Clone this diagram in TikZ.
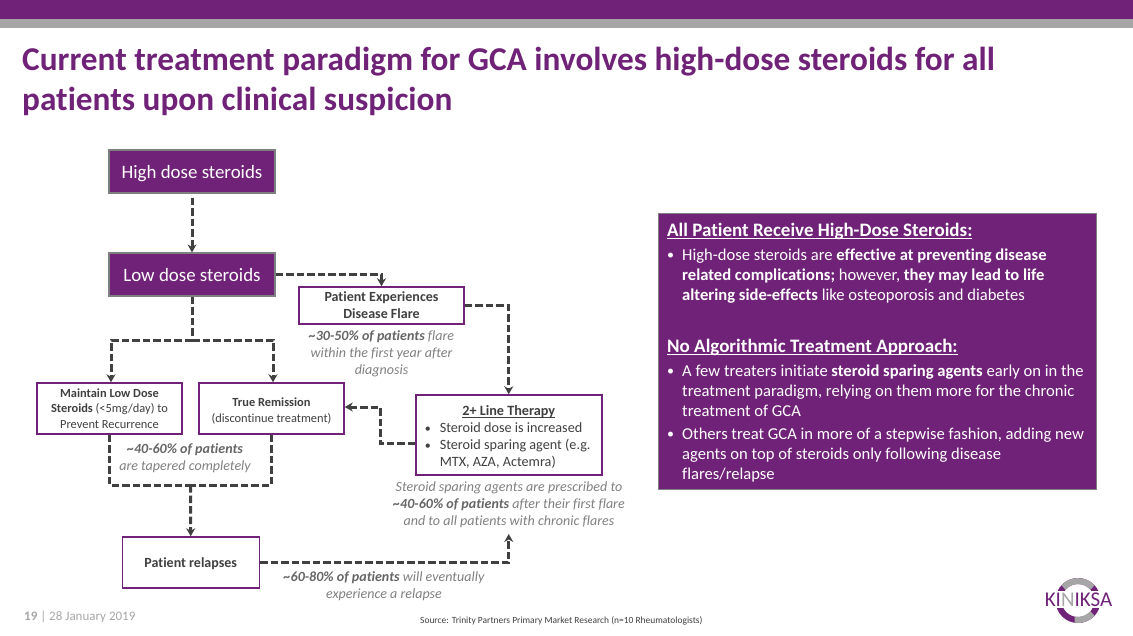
\documentclass[tikz,border=0pt]{standalone}
\usepackage{fontspec}
\setmainfont[Ligatures=NoCommon]{Carlito}
\usepackage{xcolor}
\usepackage{tikz}
\usetikzlibrary{positioning,calc,arrows.meta}
\definecolor{kpurple}{HTML}{6F2277}
\definecolor{kedge}{HTML}{7F7F7F}
\definecolor{kgray}{HTML}{A6A6A6}
\definecolor{kdark}{HTML}{404040}
\definecolor{knote}{HTML}{808080}
\definecolor{knotebold}{HTML}{666666}
\newcommand{\fs}[2]{\fontsize{#1}{#2}\selectfont}
\newcommand{\nb}[1]{{\bfseries\color{knotebold}#1}}
\newcommand{\ulbar}[3]{\setbox0\hbox{#3}\rlap{\rule[-#1]{\wd0}{#2}}\box0}
\tikzset{
    solidbox/.style={draw=kedge,line width=1.2pt,fill=kpurple,text=white,minimum width=166pt,minimum height=43pt,inner sep=0pt,text height=14pt,text depth=0pt,font=\fs{18.9}{22}},
    whitebox/.style={draw=kpurple,line width=1.5pt,fill=white,text=kdark,inner sep=0pt,align=center,font=\fs{12.4}{15.3}},
    flow/.style={draw=kdark,line width=3pt,dash pattern=on 7.5pt off 3pt,-{Stealth[length=8pt,width=9pt]}},
    flowplain/.style={draw=kdark,line width=3pt,dash pattern=on 7.5pt off 3pt},
    note/.style={text=knote,font=\fs{14.05}{17}\itshape,align=center,inner sep=0pt},
    panelhead/.style={text=white,font=\fs{19}{23}\bfseries,anchor=west,inner sep=0pt},
    panelbody/.style={text=white,font=\fs{16.6}{20},anchor=north west,inner sep=0pt,align=left},
    panelbullet/.style={text=white,font=\fs{14}{20},anchor=base west,inner sep=0pt},
}
\begin{document}
\begin{tikzpicture}[x=1pt,y=-1pt]
    \useasboundingbox (0,0) rectangle (1133,635);
    % top bars
    \fill[kpurple] (0,0) rectangle (1133,19);
    \fill[kgray] (0,19) rectangle (1133,28);
    \node[anchor=west,inner sep=0pt,text=kpurple,font=\fs{33.3}{40}\bfseries,align=left] (title) at (22,81)
        {Current treatment paradigm for GCA involves high-dose steroids for all\\patients upon clinical suspicion};

    % flow chart boxes
    \node[solidbox] (high) at (192,171.5) {High dose steroids};
    \node[solidbox] (low) at (192,274.5) {Low dose steroids};
    \node[whitebox,minimum width=165pt,minimum height=37pt,font=\fs{14}{17}] (flare) at (381.5,305.5) {\bfseries Patient Experiences\\\bfseries Disease Flare};
    \node[whitebox,minimum width=145pt,minimum height=51pt] (maintain) at (109.5,408.5)
        {\textbf{Maintain Low Dose}\\\textbf{Steroids} (<5mg/day) to\\Prevent Recurrence};
    \node[whitebox,minimum width=145pt,minimum height=51pt] (true) at (271.5,408.5)
        {\rule{0pt}{13.5pt}\textbf{True Remission}\\(discontinue treatment)};
    \node[whitebox,minimum width=186pt,minimum height=80pt,font=\fs{14.2}{17}] (line) at (508.75,435)
        {\begin{tabular}{@{}p{170pt}@{}}
            \rule{0pt}{18pt}\centering\bfseries\ulbar{2pt}{0.9pt}{2+ Line Therapy}\tabularnewline
            \makebox[16pt][l]{\hspace{1pt}\fs{12}{17}•}Steroid dose is increased\tabularnewline
            \makebox[16pt][l]{\hspace{1pt}\fs{12}{17}•}Steroid sparing agent (e.g.\tabularnewline
            \hspace{16pt}MTX, AZA, Actemra)
        \end{tabular}};
    \node[whitebox,minimum width=137pt,minimum height=51pt,text height=10pt,text depth=0pt,font=\fs{14}{17}\bfseries] (relapse) at (190.75,562.5) {Patient relapses};

    % notes
    \node[note] (noteflare) at (381.5,354) {\nb{\textasciitilde30-50\% of patients} flare\\within the first year after\\diagnosis};
    \node[note] (notetaper) at (185,458) {\nb{\textasciitilde40-60\% of patients}\\are tapered completely};
    \node[note] (noteline) at (509,505) {Steroid sparing agents are prescribed to\\\nb{\textasciitilde40-60\% of patients} after their first flare\\and to all patients with chronic flares};
    \node[note] (noterelapse) at (384,586) {\nb{\textasciitilde60-80\% of patients} will eventually\\experience a relapse};

    % connectors
    \coordinate (split) at (192,340);
    \coordinate (merge) at (190.5,485);
    \coordinate (back) at (380,407);
    \coordinate (rise) at (508.75,534);
    \draw[flow] ([yshift=-4pt]high.south) -- (low.north);
    \draw[flow] (low.east) -| (flare.north);
    \draw[flow] (flare.east) -| (line.north);
    \draw[flowplain] (low.south) -- (split);
    \draw[flow] (split) -| ([xshift=1.5pt]maintain.north);
    \draw[flow] (split) -| ([xshift=1.5pt]true.north);
    \draw[flowplain] (maintain.south) |- (merge);
    \draw[flowplain] (true.south) |- (merge);
    \draw[flow] (merge) -- (relapse.north);
    \draw[flow] (line.west |- 0,443.5) -| (back) -- (back -| true.east);
    \draw[flow] (relapse.east) -| (rise);

    % right panel
    \node[draw=kedge,line width=1pt,fill=kpurple,minimum width=438pt,minimum height=276pt,inner sep=0pt] (panel) at (877,351) {};
    \node[panelhead] (headone) at (667,231) {\ulbar{3pt}{1.3pt}{All Patient Receive High-Dose Steroids:}};
    \node[panelbullet] (bulletone) at (667,259) {•};
    \node[panelbody] (bodyone) at (682,248.5)
        {High-dose steroids are \textbf{effective at preventing disease}\\\textbf{related complications;} however, \textbf{they may lead to life}\\\textbf{altering side-effects} like osteoporosis and diabetes};
    \node[panelhead] (headtwo) at (667,347) {\ulbar{3pt}{1.3pt}{No Algorithmic Treatment Approach:}};
    \node[panelbullet] (bullettwo) at (667,375) {•};
    \node[panelbody] (bodytwo) at (682,364.5)
        {A few treaters initiate \textbf{steroid sparing agents} early on in the\\treatment paradigm, relying on them more for the chronic\\treatment of GCA};
    \node[panelbullet] (bulletthree) at (667,438) {•};
    \node[panelbody] (bodythree) at (682,427.5)
        {Others treat GCA in more of a stepwise fashion, adding new\\agents on top of steroids only following disease\\flares/relapse};

    % footer
    \node[anchor=west,inner sep=0pt,text=kgray,font=\fs{13}{16}] (date) at (24,617) {\textbf{19} | 28 January 2019};
    \node[anchor=west,inner sep=0pt,text=kdark,font=\fs{9.46}{12}] (source) at (420,621) {Source: Trinity Partners Primary Market Research (n=10 Rheumatologists)};

    % logo
    \draw[kpurple,line width=6pt] (1078,600.5) circle[radius=19.5pt];
    \draw[kgray,line width=6pt] (1063.5,587.5) arc[start angle=138,end angle=42,radius=19.5pt];
    \draw[kgray,line width=6pt] (1092.5,613.5) arc[start angle=-42,end angle=-100,radius=19.5pt];
    \fill[white] (1044,591) rectangle (1113,608);
    \node[inner sep=0pt,text=kpurple,font=\fs{21}{22}] (logo) at (1078.5,600) {KI{\color{kgray}N}IKSA};
\end{tikzpicture}
\end{document}
